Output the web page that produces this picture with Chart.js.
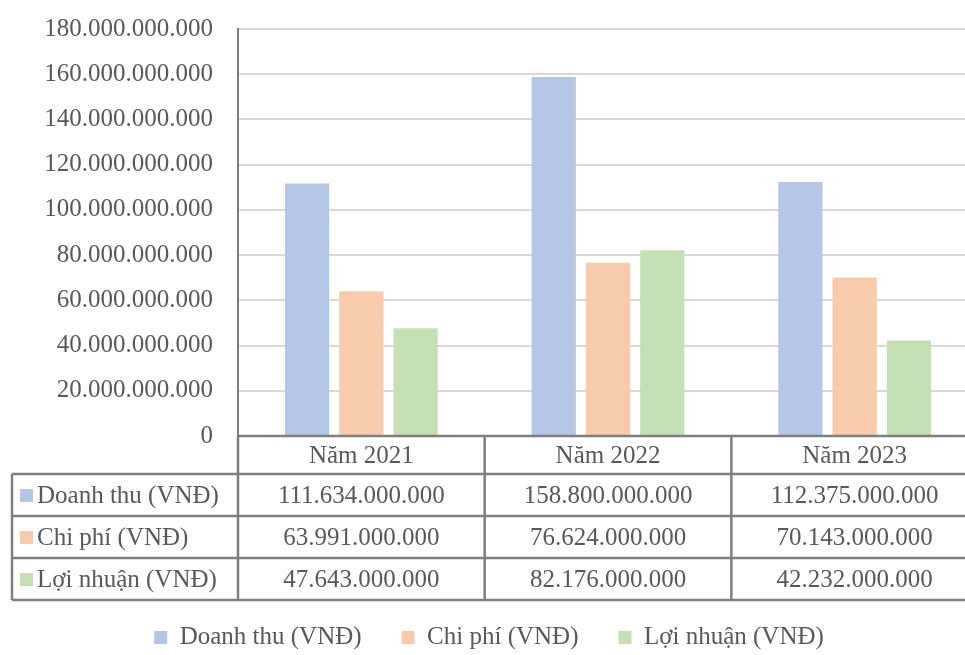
<!DOCTYPE html>
<html>
<head>
<meta charset="utf-8">
<script src="https://cdn.jsdelivr.net/npm/chart.js@4"></script>
<style>
  html, body { margin: 0; padding: 0; background: #fff; overflow: hidden; }
</style>
</head>
<body>
<canvas id="bieuDo" width="978" height="655"></canvas>
<script>
// du lieu doc tu hinh
const namLabels = ["Năm 2021", "Năm 2022", "Năm 2023"];
const tenChuoi = ["Doanh thu (VNĐ)", "Chi phí (VNĐ)", "Lợi nhuận (VNĐ)"];
const doanhThu = [111634000000, 158800000000, 112375000000];
const chiPhi = [63991000000, 76624000000, 70143000000];
const loiNhuan = [47643000000, 82176000000, 42232000000];
const mauChuoi = ["#b4c7e7", "#f8cbad", "#c5e0b4"];

const FONT = "'Liberation Serif', 'Times New Roman', serif";
const CO_CHU = 25;
const MAU_CHU = "#595959";

function dinhDang(v) {
  return String(v).replace(/\B(?=(\d{3})+(?!\d))/g, ".");
}

// bang du lieu ben duoi truc x
const bangDuLieu = {
  id: "bangDuLieu",
  afterDraw(chart) {
    const ctx = chart.ctx;
    const area = chart.chartArea;
    const x = chart.scales.x;
    const nuaCot = (area.right - area.left) / namLabels.length / 2;
    const trai = 12;
    const hangDau = 38, hang = 42;
    const y0 = area.bottom;
    const y1 = y0 + hangDau;
    const yCuoi = y1 + hang * tenChuoi.length;
    const cacChuoi = [doanhThu, chiPhi, loiNhuan];

    ctx.save();
    ctx.strokeStyle = "#7f7f7f";
    ctx.lineWidth = 2.5;
    ctx.beginPath();
    ctx.moveTo(area.left, y0); ctx.lineTo(area.right, y0);
    for (let r = 0; r <= tenChuoi.length; r++) {
      ctx.moveTo(trai, y1 + r * hang); ctx.lineTo(area.right, y1 + r * hang);
    }
    ctx.moveTo(trai, y1); ctx.lineTo(trai, yCuoi);
    ctx.moveTo(area.left, y0); ctx.lineTo(area.left, yCuoi);
    namLabels.forEach((n, i) => {
      const bien = x.getPixelForValue(i) + nuaCot;
      ctx.moveTo(bien, y0); ctx.lineTo(bien, yCuoi);
    });
    ctx.stroke();

    ctx.font = CO_CHU + "px " + FONT;
    ctx.fillStyle = MAU_CHU;
    ctx.textBaseline = "middle";
    ctx.textAlign = "center";
    namLabels.forEach((n, i) => {
      ctx.fillText(n, x.getPixelForValue(i), y0 + hangDau / 2 + 1);
    });
    tenChuoi.forEach((ten, r) => {
      const yg = y1 + r * hang + hang / 2;
      ctx.fillStyle = mauChuoi[r];
      ctx.fillRect(20, yg - 6, 13, 13);
      ctx.fillStyle = MAU_CHU;
      ctx.textAlign = "left";
      ctx.fillText(ten, 37, yg + 1);
      ctx.textAlign = "center";
      cacChuoi[r].forEach((v, i) => {
        ctx.fillText(dinhDang(v), x.getPixelForValue(i), yg + 1);
      });
    });
    ctx.restore();
  }
};

new Chart(document.getElementById("bieuDo"), {
  type: "bar",
  data: {
    labels: namLabels,
    datasets: [
      { label: tenChuoi[0], data: doanhThu, backgroundColor: mauChuoi[0] },
      { label: tenChuoi[1], data: chiPhi, backgroundColor: mauChuoi[1] },
      { label: tenChuoi[2], data: loiNhuan, backgroundColor: mauChuoi[2] }
    ]
  },
  options: {
    responsive: false,
    animation: false,
    categoryPercentage: 0.66,
    barPercentage: 0.815,
    layout: { padding: { top: 29, left: 0, right: 0, bottom: -5 } },
    plugins: {
      tooltip: { enabled: false },
      legend: {
        position: "bottom",
        labels: {
          boxWidth: 13,
          boxHeight: 13,
          padding: 40,
          color: MAU_CHU,
          font: { family: FONT, size: CO_CHU }
        }
      }
    },
    scales: {
      x: {
        grid: { display: false },
        border: { display: false },
        ticks: { display: false },
        afterFit(scale) { scale.height = 149; }
      },
      y: {
        min: 0,
        max: 180000000000,
        ticks: {
          stepSize: 20000000000,
          padding: 0,
          color: MAU_CHU,
          font: { family: FONT, size: CO_CHU },
          callback: v => dinhDang(v)
        },
        grid: { color: "#d9d9d9", lineWidth: 2, drawTicks: true, tickLength: 25, tickColor: "rgba(0,0,0,0)" },
        border: { display: true, color: "#7f7f7f", width: 2 },
        afterFit(scale) { scale.width = 238; }
      }
    }
  },
  plugins: [bangDuLieu]
});
</script>
</body>
</html>
